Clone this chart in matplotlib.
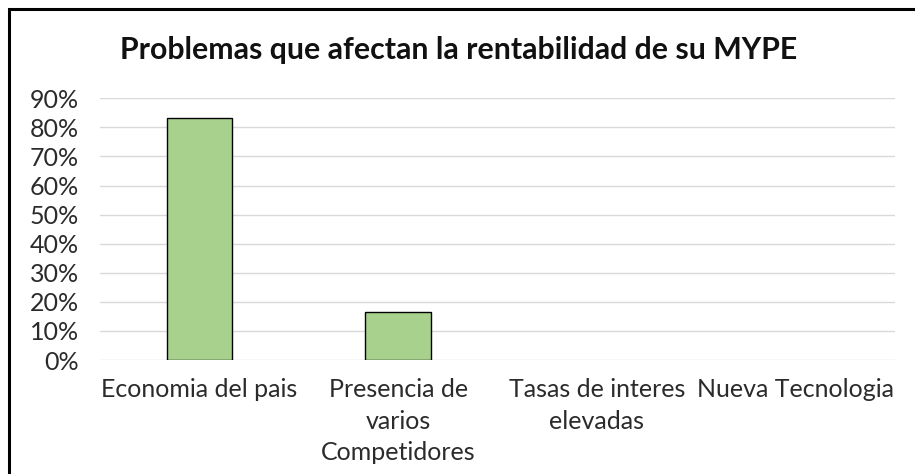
import matplotlib
matplotlib.use("Agg")
import matplotlib.pyplot as plt
from matplotlib.patches import Rectangle
from matplotlib.ticker import PercentFormatter

title = "Problemas que afectan la rentabilidad de su MYPE"
categories = ["Economia del pais", "Presencia de\nvarios\nCompetidores",
              "Tasas de interes\nelevadas", "Nueva Tecnologia"]
values = [0.8333, 0.1667, 0.0, 0.0]
yticks = [0.0, 0.1, 0.2, 0.3, 0.4, 0.5, 0.6, 0.7, 0.8, 0.9]

plt.rcParams['font.family'] = ['Lato', 'DejaVu Sans']

fig = plt.figure(figsize=(9.15, 4.74), dpi=100)
W, H = 915, 474
ax = fig.add_axes([100 / W, 1 - 360 / H, 795 / W, (360 - 98.3) / H])

x = range(len(categories))
edge_widths = [1.0 if v > 0 else 0.0 for v in values]
ax.bar(x, values, width=0.33, color="#a9d18e", edgecolor="#000000",
       linewidth=edge_widths, zorder=3)
ax.set_xlim(-0.5, len(categories) - 0.5)
ax.set_ylim(0, 0.9)
ax.set_yticks(yticks)
ax.yaxis.set_major_formatter(PercentFormatter(1.0, decimals=0))
ax.set_xticks(list(x))
ax.set_xticklabels(categories, linespacing=1.45)
ax.grid(axis="y", color="#d9d9d9", linewidth=1.0, zorder=0)
for s in ax.spines.values():
    s.set_visible(False)
ax.tick_params(axis="both", length=0, labelsize=18, colors="#2b2b2b")
ax.tick_params(axis="y", pad=15)
ax.tick_params(axis="x", pad=13)
for lbl in ax.get_yticklabels():
    lbl.set_horizontalalignment("right")

fig.text(459 / W, 1 - 50 / H, title, ha="center", va="center",
         fontsize=21.8, fontweight="bold", color="#111111")

fig.add_artist(Rectangle((9 / W, -0.1), 1.2, (1 - 9 / H) + 0.1, transform=fig.transFigure,
                         fill=False, edgecolor="#000000", linewidth=2.2, clip_on=False))

fig.savefig("out.png", dpi=100, facecolor="white")
